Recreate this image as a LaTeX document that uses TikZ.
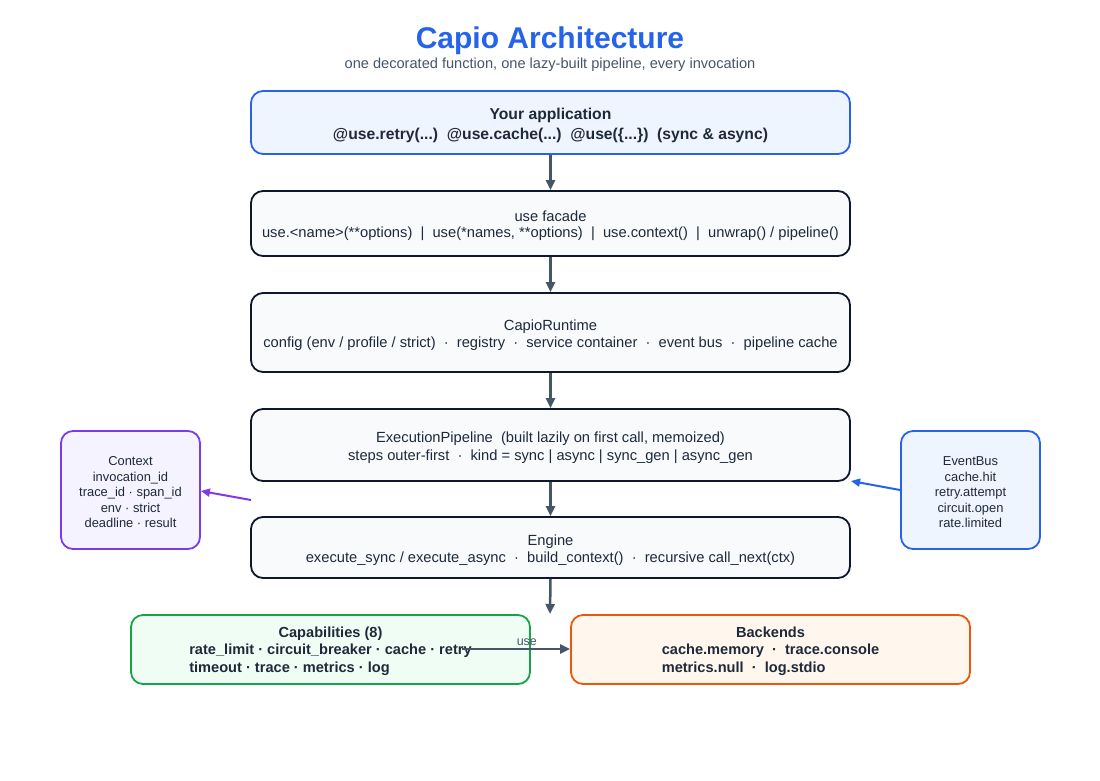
\documentclass[tikz,border=0pt]{standalone}
\usepackage{fontspec}
\setmainfont{Liberation Sans}
\usetikzlibrary{arrows.meta}
\definecolor{cblue}{HTML}{2563EB}
\definecolor{cbluefill}{HTML}{EFF5FE}
\definecolor{cdark}{HTML}{0F172A}
\definecolor{cgreyfill}{HTML}{F8FAFC}
\definecolor{cslate}{HTML}{475569}
\definecolor{cpurple}{HTML}{7C3AED}
\definecolor{cpurplefill}{HTML}{F5F3FF}
\definecolor{cgreen}{HTML}{16A34A}
\definecolor{cgreenfill}{HTML}{F0FDF4}
\definecolor{corange}{HTML}{EA580C}
\definecolor{corangefill}{HTML}{FFF7ED}
\definecolor{ctext}{HTML}{1E293B}
\tikzset{
  box/.style={draw, rounded corners=12pt, line width=1.8pt, minimum width=599pt, inner sep=0pt},
  mainbox/.style={box, draw=cdark, fill=cgreyfill},
  appbox/.style={box, draw=cblue, fill=cbluefill},
  sidebox/.style={draw, rounded corners=12pt, line width=1.8pt, minimum width=139pt,
    minimum height=118pt, inner sep=0pt},
  botbox/.style={draw, rounded corners=12pt, line width=1.8pt, minimum width=399pt,
    minimum height=69pt, inner sep=0pt},
  lbl/.style={align=center, inner sep=0pt, text=ctext, yshift=-2.5pt},
  mainlbl/.style={lbl, font=\fontsize{14.7}{17}\selectfont},
  sidelbl/.style={lbl, font=\fontsize{12.9}{15.5}\selectfont},
  botlbl/.style={lbl, font=\bfseries\fontsize{14.6}{17.5}\selectfont},
  flow/.style={draw=cslate, line width=2.5pt, -{Triangle[length=10pt,width=9pt]}},
  sidearrow/.style={line width=2pt, -{Triangle[length=9pt,width=8pt]}},
}
\begin{document}
\begin{tikzpicture}[x=1pt,y=-1pt]
\useasboundingbox (0,0) rectangle (1100,780);
% title
\node[text=cblue, font=\bfseries\fontsize{30}{34}\selectfont] (title) at (550,41) {Capio Architecture};
\node[text=cslate, font=\fontsize{14.6}{16}\selectfont] (subtitle) at (550,65) {one decorated function, one lazy-built pipeline, every invocation};
% main column boxes
\node[appbox, minimum height=63pt] (app) at (550.5,122.5) {};
\node[mainbox, minimum height=65pt] (facade) at (550.5,223.5) {};
\node[mainbox, minimum height=79pt] (runtime) at (550.5,332.5) {};
\node[mainbox, minimum height=72pt] (pipeline) at (550.5,445) {};
\node[mainbox, minimum height=61pt] (engine) at (550.5,547.5) {};
% main column texts
\node[lbl, font=\bfseries\fontsize{15.7}{20}\selectfont] (app-t) at (app.center)
  {Your application\\@use.retry(...)\ \ @use.cache(...)\ \ @use(\{...\})\ \ (sync \& async)};
\node[mainlbl, font=\fontsize{14.7}{16}\selectfont] (facade-t) at (facade.center)
  {use facade\\use.<name>(**options)\ \ |\ \ use(*names, **options)\ \ |\ \ use.context()\ \ |\ \ unwrap() / pipeline()};
\node[mainlbl] (runtime-t) at (runtime.center)
  {CapioRuntime\\config (env / profile / strict)\ \ ·\ \ registry\ \ ·\ \ service container\ \ ·\ \ event bus\ \ ·\ \ pipeline cache};
\node[mainlbl, font=\fontsize{14.7}{18}\selectfont] (pipeline-t) at (pipeline.center)
  {ExecutionPipeline\ \ (built lazily on first call, memoized)\\steps outer-first\ \ ·\ \ kind = sync | async | sync\_gen | async\_gen};
\node[mainlbl] (engine-t) at (engine.center)
  {Engine\\execute\_sync / execute\_async\ \ ·\ \ build\_context()\ \ ·\ \ recursive call\_next(ctx)};
% side boxes
\node[sidebox, draw=cpurple, fill=cpurplefill] (context) at (130.5,490) {};
\node[sidelbl] (context-t) at (context.center)
  {Context\\invocation\_id\\trace\_id · span\_id\\env · strict\\deadline · result};
\node[sidebox, draw=cblue, fill=cbluefill] (eventbus) at (970.5,490) {};
\node[sidelbl] (eventbus-t) at (eventbus.center)
  {EventBus\\cache.hit\\retry.attempt\\circuit.open\\rate.limited};
% bottom boxes
\node[botbox, draw=cgreen, fill=cgreenfill] (caps) at (330.5,649.5) {};
\node[botlbl] (caps-t) at (caps.center)
  {Capabilities (8)\\\begin{tabular}[t]{@{}l@{}}rate\_limit · circuit\_breaker · cache · retry\\timeout · trace · metrics · log\end{tabular}};
\node[botbox, draw=corange, fill=corangefill] (backends) at (770.5,649.5) {};
\node[botlbl] (backends-t) at (backends.center)
  {Backends\\\begin{tabular}[t]{@{}l@{}}cache.memory\ \ ·\ \ trace.console\\metrics.null\ \ ·\ \ log.stdio\end{tabular}};
% flow arrows
\draw[flow] (app.south) -- (facade.north);
\draw[flow] (facade.south) -- (runtime.north);
\draw[flow] (runtime.south) -- (pipeline.north);
\draw[flow] (pipeline.south) -- (engine.north);
\coordinate (engineout) at (550,614);
\draw[flow] (engine.south) -- (engineout);
% side arrows
\coordinate (ctxfrom) at (251,500);
\draw[sidearrow, draw=cpurple] (ctxfrom) -- (context.east |- 0,491);
\draw[sidearrow, draw=cblue] (eventbus.west |- 0,490) -- (851,481);
% use arrow
\coordinate (usefrom) at (462,649);
\draw[flow] (usefrom) -- (backends.west |- usefrom) node[pos=0.6, above=-1pt, text=cslate, font=\fontsize{12.5}{14}\selectfont] (uselbl) {use};
\end{tikzpicture}
\end{document}
